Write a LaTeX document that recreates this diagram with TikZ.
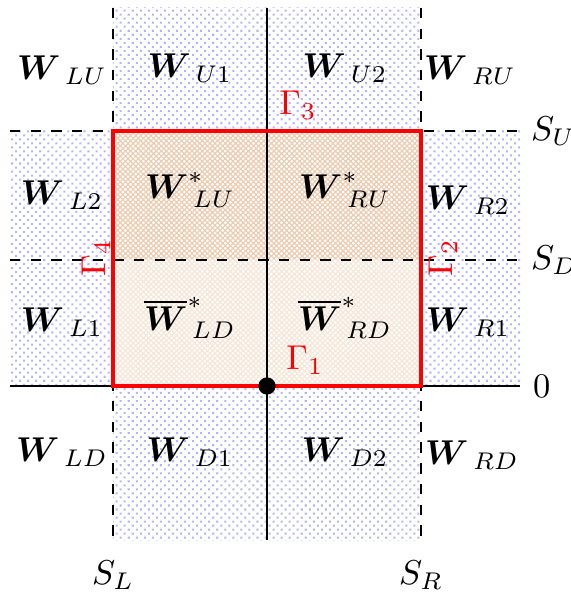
\documentclass[tikz,border=0pt]{standalone}
\usepackage{amsmath,amssymb}
\usepackage{tikz}
\usetikzlibrary{patterns.meta}
\definecolor{dotblue}{RGB}{180,180,252}
\definecolor{hatchdark}{RGB}{236,204,176}
\definecolor{hatchlight}{RGB}{246,231,216}
\definecolor{deepred}{RGB}{255,0,0}

\begin{document}
\begin{tikzpicture}[
    x=0.29pt, y=0.29pt,
    zone/.style={font=\normalsize, inner sep=1pt},
    gam/.style={font=\normalsize, text=deepred, inner sep=1pt},
    sep/.style={font=\normalsize, inner sep=1pt},
    bound/.style={dashed, thin},
    dotzone/.style={pattern={Dots[radius=0.42pt, distance=1.65pt, angle=45]},
                    pattern color=dotblue},
    hatchzone/.style={pattern={Hatch[angle=45, distance=1.05pt, line width=0.35pt]}}
]
\useasboundingbox (-267,-208) rectangle (303,386);
\fill[dotzone] (-154,-154) rectangle (154,378);
\fill[dotzone] (-257,0) rectangle (253,255);
\fill[white] (-154,0) rectangle (154,255);
\fill[hatchzone, pattern color=hatchdark] (-154,126) rectangle (154,255);
\fill[hatchzone, pattern color=hatchlight] (-154,0) rectangle (154,126);
\draw[bound] (-154,378) -- (-154,-154);
\draw[bound] (154,378) -- (154,-154);
\draw[bound] (-257,255) -- (253,255);
\draw[bound] (-257,126) -- (253,126);
\draw[thin] (0,378) -- (0,-154);
\draw[thin] (-257,0) -- (253,0);
\draw[deepred, line width=1.2pt] (-154,0) rectangle (154,255);
\node[circle, fill=black, inner sep=0pt, minimum size=5pt] (o) at (0,0) {};

\node[zone] (wlu) at (-205,316) {$\boldsymbol{W}_{\,LU}$};
\node[zone] (wu1) at (-77,318) {$\boldsymbol{W}_{\,U1}$};
\node[zone] (wu2) at (78,318) {$\boldsymbol{W}_{\,U2}$};
\node[zone] (wru) at (203,316) {$\boldsymbol{W}_{\,RU}$};
\node[zone] (wl2) at (-205,191) {$\boldsymbol{W}_{\,L2}$};
\node[zone] (wslu) at (-77,196) {$\boldsymbol{W}^*_{\,LU}$};
\node[zone] (wsru) at (78,196) {$\boldsymbol{W}^*_{\,RU}$};
\node[zone] (wr2) at (201,186) {$\boldsymbol{W}_{\,R2}$};
\node[zone] (wl1) at (-205,64) {$\boldsymbol{W}_{\,L1}$};
\node[zone] (wsld) at (-77,68) {$\overline{\boldsymbol{W}}^*_{\,LD}$};
\node[zone] (wsrd) at (78,68) {$\overline{\boldsymbol{W}}^*_{\,RD}$};
\node[zone] (wr1) at (201,64) {$\boldsymbol{W}_{\,R1}$};
\node[zone] (wld) at (-205,-66) {$\boldsymbol{W}_{\,LD}$};
\node[zone] (wd1) at (-77,-66) {$\boldsymbol{W}_{\,D1}$};
\node[zone] (wd2) at (78,-66) {$\boldsymbol{W}_{\,D2}$};
\node[zone] (wrd) at (205,-69) {$\boldsymbol{W}_{\,RD}$};

\node[gam] (g1) at (38,26) {$\Gamma_1$};
\node[gam, rotate=90] (g2) at (176,128) {$\Gamma_2$};
\node[gam] (g3) at (31,281) {$\Gamma_3$};
\node[gam, rotate=90] (g4) at (-171,128) {$\Gamma_4$};

\node[sep, anchor=west] (su) at (260,255) {$S_U$};
\node[sep, anchor=west] (sd) at (260,126) {$S_D$};
\node[sep, anchor=west] (zero) at (262,0) {$0$};
\node[sep] (sl) at (-154,-189) {$S_L$};
\node[sep] (sr) at (154,-189) {$S_R$};
\end{tikzpicture}
\end{document}
